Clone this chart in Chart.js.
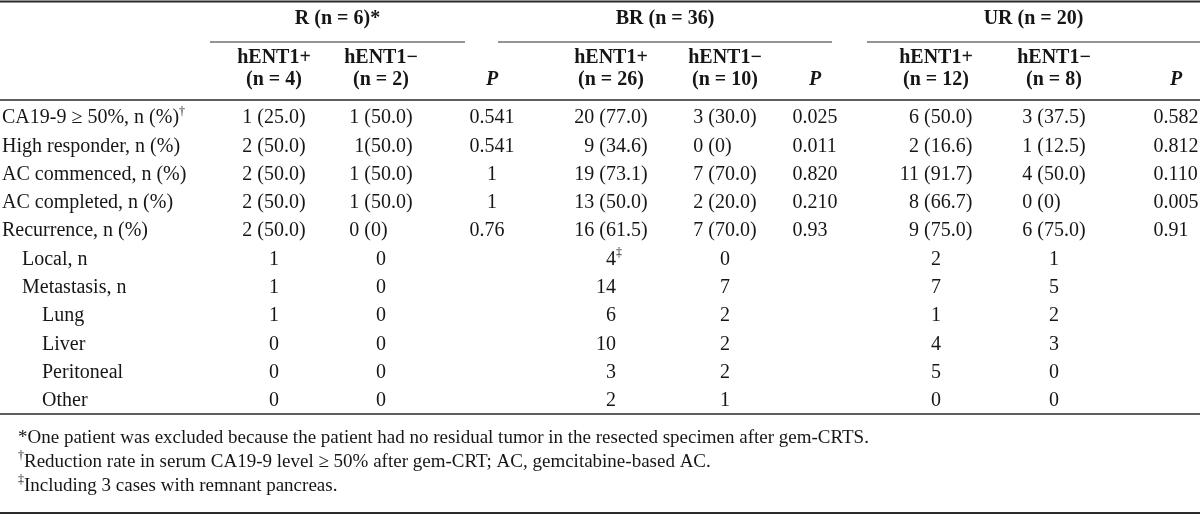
<!DOCTYPE html>
<html>
<head>
<meta charset="utf-8">
<script src="https://cdn.jsdelivr.net/npm/chart.js@4/dist/chart.umd.min.js"></script>
<style>
  html, body { margin: 0; padding: 0; background: #fff; }
  #wrap { width: 1200px; height: 515px; position: relative; }
</style>
</head>
<body>
<div id="wrap"><canvas id="myChart"></canvas></div>
<script>
    // table rows (categories on the y axis)
    const rowLabels = [
        'CA19-9 ≥ 50%, n (%)†',
        'High responder, n (%)',
        'AC commenced, n (%)',
        'AC completed, n (%)',
        'Recurrence, n (%)',
        'Local, n',
        'Metastasis, n',
        'Lung',
        'Liver',
        'Peritoneal',
        'Other'
    ];
    const rowLevel = [0, 0, 0, 0, 0, 1, 1, 2, 2, 2, 2];

    const groupNames = ['R (n = 6)*', 'BR (n = 36)', 'UR (n = 20)'];
    const groupCounts = [[4, 2], [26, 10], [12, 8]];

    const rPos  = ['1 (25.0)', '2 (50.0)', '2 (50.0)', '2 (50.0)', '2 (50.0)', '1', '1', '1', '0', '0', '0'];
    const rNeg  = ['1 (50.0)', '1(50.0)', '1 (50.0)', '1 (50.0)', '0 (0)', '0', '0', '0', '0', '0', '0'];
    const rP    = ['0.541', '0.541', '1', '1', '0.76', '', '', '', '', '', ''];
    const brPos = ['20 (77.0)', '9 (34.6)', '19 (73.1)', '13 (50.0)', '16 (61.5)', '4‡', '14', '6', '10', '3', '2'];
    const brNeg = ['3 (30.0)', '0 (0)', '7 (70.0)', '2 (20.0)', '7 (70.0)', '0', '7', '2', '2', '2', '1'];
    const brP   = ['0.025', '0.011', '0.820', '0.210', '0.93', '', '', '', '', '', ''];
    const urPos = ['6 (50.0)', '2 (16.6)', '11 (91.7)', '8 (66.7)', '9 (75.0)', '2', '7', '1', '4', '5', '0'];
    const urNeg = ['3 (37.5)', '1 (12.5)', '4 (50.0)', '0 (0)', '6 (75.0)', '1', '5', '2', '3', '0', '0'];
    const urP   = ['0.582', '0.812', '0.110', '0.005', '0.91', '', '', '', '', '', ''];

    const footnotes = [
        '*One patient was excluded because the patient had no residual tumor in the resected specimen after gem-CRTS.',
        '†Reduction rate in serum CA19-9 level ≥ 50% after gem-CRT; AC, gemcitabine-based AC.',
        '‡Including 3 cases with remnant pancreas.'
    ];

    // layout (x values on a 0..1200 linear scale, y offsets in px)
    const colX = [274, 381, 492, 611, 725, 815, 936, 1054, 1176];
    const groupSpan = [[210, 465], [498, 832], [867, 1200]];
    const columns = [rPos, rNeg, rP, brPos, brNeg, brP, urPos, urNeg, urP];
    const FONT = '"Liberation Serif", "Times New Roman", serif';
    const INK = '#161616';

    function segs(str) {
        const out = [];
        for (const ch of str) {
            const sup = ch === '†' || ch === '‡';
            const last = out[out.length - 1];
            if (last && last.sup === sup) last.t += ch; else out.push({ t: ch, sup: sup });
        }
        return out;
    }

    // draw text with small raised † ‡, aligned by its non-superscript width
    function richText(ctx, str, x, y, align, size, bold) {
        const base = (bold ? 'bold ' : '') + size + 'px ' + FONT;
        const small = (bold ? 'bold ' : '') + Math.round(size * 0.62) + 'px ' + FONT;
        const parts = segs(str);
        let mainW = 0;
        parts.forEach(p => {
            ctx.font = p.sup ? small : base;
            p.w = ctx.measureText(p.t).width;
            if (!p.sup) mainW += p.w;
        });
        let cx = x;
        if (align === 'center') cx = x - mainW / 2;
        if (align === 'right') cx = x - mainW;
        parts.forEach(p => {
            ctx.font = p.sup ? small : base;
            ctx.fillText(p.t, cx, p.sup ? y - size * 0.32 : y);
            cx += p.w;
        });
    }

    function hline(ctx, x1, x2, y, w) {
        ctx.beginPath();
        ctx.lineWidth = w;
        ctx.strokeStyle = '#2a2a2a';
        ctx.moveTo(x1, y);
        ctx.lineTo(x2, y);
        ctx.stroke();
    }

    const tablePlugin = {
        id: 'tableText',
        afterDraw(chart) {
            const { ctx, chartArea, scales: { x, y } } = chart;
            const top = chartArea.top, bottom = chartArea.bottom;
            const W = chart.width;
            ctx.save();
            ctx.fillStyle = INK;
            ctx.textBaseline = 'middle';
            ctx.textAlign = 'left';

            // rules
            hline(ctx, 0, W, 1.5, 2);
            groupSpan.forEach(s => hline(ctx, x.getPixelForValue(s[0]), x.getPixelForValue(s[1]), top - 62, 1.2));
            hline(ctx, 0, W, top - 4, 1.6);
            hline(ctx, 0, W, bottom - 1, 1.6);
            hline(ctx, 0, W, chart.height - 2, 2);

            // header
            groupNames.forEach((g, i) => {
                const s = groupSpan[i];
                const mid = x.getPixelForValue((s[0] + s[1]) / 2);
                richText(ctx, g, mid, top - 85, 'center', 20, true);
                const n = groupCounts[i];
                const c0 = x.getPixelForValue(colX[i * 3]);
                const c1 = x.getPixelForValue(colX[i * 3 + 1]);
                const c2 = x.getPixelForValue(colX[i * 3 + 2]);
                richText(ctx, 'hENT1+', c0, top - 46, 'center', 20, true);
                richText(ctx, '(n = ' + n[0] + ')', c0, top - 24, 'center', 20, true);
                richText(ctx, 'hENT1−', c1, top - 46, 'center', 20, true);
                richText(ctx, '(n = ' + n[1] + ')', c1, top - 24, 'center', 20, true);
                ctx.font = 'italic bold 20px ' + FONT;
                ctx.textAlign = 'center';
                ctx.fillText('P', c2, top - 24);
                ctx.textAlign = 'left';
            });

            // row labels
            rowLabels.forEach((lab, r) => {
                richText(ctx, lab, 2 + rowLevel[r] * 20, y.getPixelForTick(r), 'left', 20, false);
            });

            // cells: "(" or "." aligned, plain integers right-aligned
            ctx.font = '20px ' + FONT;
            const digitW = ctx.measureText('0').width;
            columns.forEach((col, ci) => {
                const cx = x.getPixelForValue(colX[ci]);
                const mark = ci % 3 === 2 ? '.' : '(';
                ctx.font = '20px ' + FONT;
                let anchor = null, widest = 0;
                col.forEach(v => {
                    const k = v.indexOf(mark);
                    if (k < 0) return;
                    const w = ctx.measureText(v).width;
                    if (w > widest) {
                        widest = w;
                        anchor = cx - w / 2 + ctx.measureText(v.slice(0, k)).width;
                    }
                });
                col.forEach((v, r) => {
                    if (!v) return;
                    const yy = y.getPixelForTick(r);
                    ctx.font = '20px ' + FONT;
                    const k = v.indexOf(mark);
                    if (k >= 0) {
                        richText(ctx, v, anchor - ctx.measureText(v.slice(0, k)).width, yy, 'left', 20, false);
                    } else {
                        richText(ctx, v, cx + digitW / 2, yy, 'right', 20, false);
                    }
                });
            });

            // footnotes
            footnotes.forEach((f, i) => {
                richText(ctx, f, 18, bottom + 23 + i * 24, 'left', 19, false);
            });
            ctx.restore();
        }
    };

    const config = {
        type: 'scatter',
        data: { labels: rowLabels, datasets: [] },
        options: {
            responsive: true,
            maintainAspectRatio: false,
            animation: false,
            layout: { padding: { top: 104, bottom: 100, left: 0, right: 0 } },
            plugins: { legend: { display: false }, tooltip: { enabled: false } },
            scales: {
                x: { type: 'linear', min: 0, max: 1200, display: false },
                y: { type: 'category', labels: rowLabels, offset: true, display: false }
            }
        },
        plugins: [tablePlugin]
    };

    const myChart = new Chart(document.getElementById('myChart'), config);
</script>
</body>
</html>
